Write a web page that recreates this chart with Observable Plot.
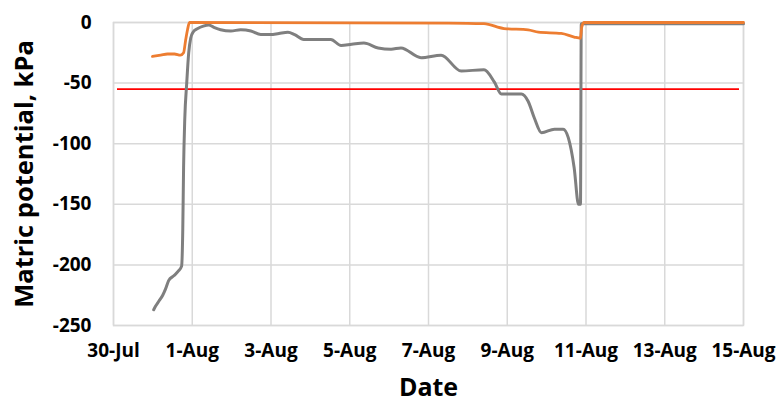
<!DOCTYPE html>
<html>
<head>
<meta charset="utf-8">
<script src="https://cdn.jsdelivr.net/npm/d3@7"></script>
<script src="https://cdn.jsdelivr.net/npm/@observablehq/plot@0.6"></script>
<style>
  html, body { margin: 0; padding: 0; background: #fff; }
  svg { display: block; }
</style>
</head>
<body>
<div id="chart"></div>
<script>
// Gray series (sensor 1)
const grayTimes = [
  "2019-07-31T00:30","2019-07-31T01:41","2019-07-31T03:36","2019-07-31T06:00","2019-07-31T07:41",
  "2019-07-31T09:36","2019-07-31T12:43","2019-07-31T15:36","2019-07-31T17:31","2019-07-31T18:14",
  "2019-07-31T18:43","2019-07-31T19:26","2019-07-31T20:38","2019-07-31T21:50","2019-07-31T23:02",
  "2019-08-01T00:29","2019-08-01T03:22","2019-08-01T06:43",
  "2019-08-01T10:05","2019-08-01T13:12","2019-08-01T17:17","2019-08-01T23:31","2019-08-02T05:31",
  "2019-08-02T11:46","2019-08-02T17:46","2019-08-02T23:46","2019-08-03T04:48","2019-08-03T10:19",
  "2019-08-03T14:24","2019-08-03T19:55","2019-08-04T12:29","2019-08-04T18:43","2019-08-05T01:12",
  "2019-08-05T08:38","2019-08-05T17:17","2019-08-06T01:12","2019-08-06T07:12","2019-08-06T19:26",
  "2019-08-07T07:41","2019-08-07T19:55","2019-08-08T09:50","2019-08-08T16:05","2019-08-08T20:24",
  "2019-08-09T08:38","2019-08-09T12:43","2019-08-09T16:34","2019-08-09T20:53","2019-08-10T04:48",
  "2019-08-10T10:05","2019-08-10T13:12","2019-08-10T16:48","2019-08-10T19:26","2019-08-10T20:38",
  "2019-08-10T21:07","2019-08-15T00:00"
];
const grayValues = [
  -237,-234,-230,-225,-220,
  -213,-209,-205,-201,-170,
  -120,-80,-50,-25,-13,
  -8,-5,-3,
  -2,-4,-6,-7,-6,
  -7,-10,-10,-9,-8,
  -10,-14,-14,-19,-18,
  -17,-21,-22,-21,-29,
  -27,-40,-39,-49,-59,
  -59,-65,-79,-91,-88,
  -88,-95,-120,-150,-150,
  -1,-1
];
// Orange series (sensor 2)
const orangeTimes = [
  "2019-07-30T23:46","2019-07-31T04:48","2019-07-31T08:53","2019-07-31T13:12","2019-07-31T16:48",
  "2019-07-31T18:43","2019-07-31T19:55","2019-07-31T21:07","2019-07-31T22:19","2019-08-07T12:00",
  "2019-08-08T09:50","2019-08-08T22:05","2019-08-09T12:43","2019-08-09T18:58","2019-08-10T08:53",
  "2019-08-10T16:48","2019-08-10T20:38","2019-08-10T21:22","2019-08-10T22:48","2019-08-15T00:00"
];
const orangeValues = [
  -28,-27,-26,-26,-27,
  -25,-15,-6,0,-0.5,
  -1,-5,-6,-8,-9,
  -12,-13,-4,0,0
];
// Threshold line
const thresholdValue = [-55];
// Axis ticks
const xTickDates = ["2019-07-30","2019-08-01","2019-08-03","2019-08-05","2019-08-07","2019-08-09","2019-08-11","2019-08-13","2019-08-15"];
const yTickValues = [0,-50,-100,-150,-200,-250];

const parseT = d3.utcParse("%Y-%m-%dT%H:%M");
const parseD = d3.utcParse("%Y-%m-%d");
const gray = grayTimes.map((t, i) => ({t: parseT(t), v: grayValues[i]}));
const orange = orangeTimes.map((t, i) => ({t: parseT(t), v: orangeValues[i]}));
const xTicks = xTickDates.map(parseD);
const font = "'Open Sans', 'Noto Sans', sans-serif";

const chart = Plot.plot({
  width: 777,
  height: 401,
  marginLeft: 113,
  marginRight: 34,
  marginTop: 22,
  marginBottom: 76,
  style: {fontFamily: font, background: "#fff"},
  x: {type: "utc", domain: [xTicks[0], xTicks[xTicks.length - 1]]},
  y: {domain: [-250, 0]},
  marks: [
    Plot.gridX(xTicks, {stroke: "#d9d9d9", strokeOpacity: 1, strokeWidth: 1.5}),
    Plot.gridY(yTickValues, {stroke: "#d9d9d9", strokeOpacity: 1, strokeWidth: 1.5}),
    Plot.frame({stroke: "#d9d9d9", strokeWidth: 1.5}),
    Plot.axisX(xTicks, {tickSize: 0, tickPadding: 18, tickFormat: d3.utcFormat("%-d-%b"),
      fontSize: 19, fontWeight: 700, fill: "#000", label: null}),
    Plot.axisY(yTickValues, {tickSize: 0, tickPadding: 22, tickFormat: d => String(d),
      fontSize: 19, fontWeight: 700, fill: "#000", label: null}),
    Plot.ruleY(thresholdValue, {stroke: "#ff0000", strokeWidth: 1.8, insetLeft: 4, insetRight: 4}),
    Plot.line(gray, {x: "t", y: "v", stroke: "#7f7f7f", strokeWidth: 3, curve: "monotone-x"}),
    Plot.line(orange, {x: "t", y: "v", stroke: "#ed7d31", strokeWidth: 2.8, curve: "monotone-x"}),
    Plot.text(["Date"], {frameAnchor: "bottom", dy: 70, fontSize: 25, fontWeight: 700, fill: "#000"}),
    Plot.text(["Matric potential, kPa"], {frameAnchor: "left", textAnchor: "middle", dx: -89, rotate: -90,
      fontSize: 25.5, fontWeight: 700, fill: "#000"})
  ]
});
document.getElementById("chart").appendChild(chart);
</script>
</body>
</html>
